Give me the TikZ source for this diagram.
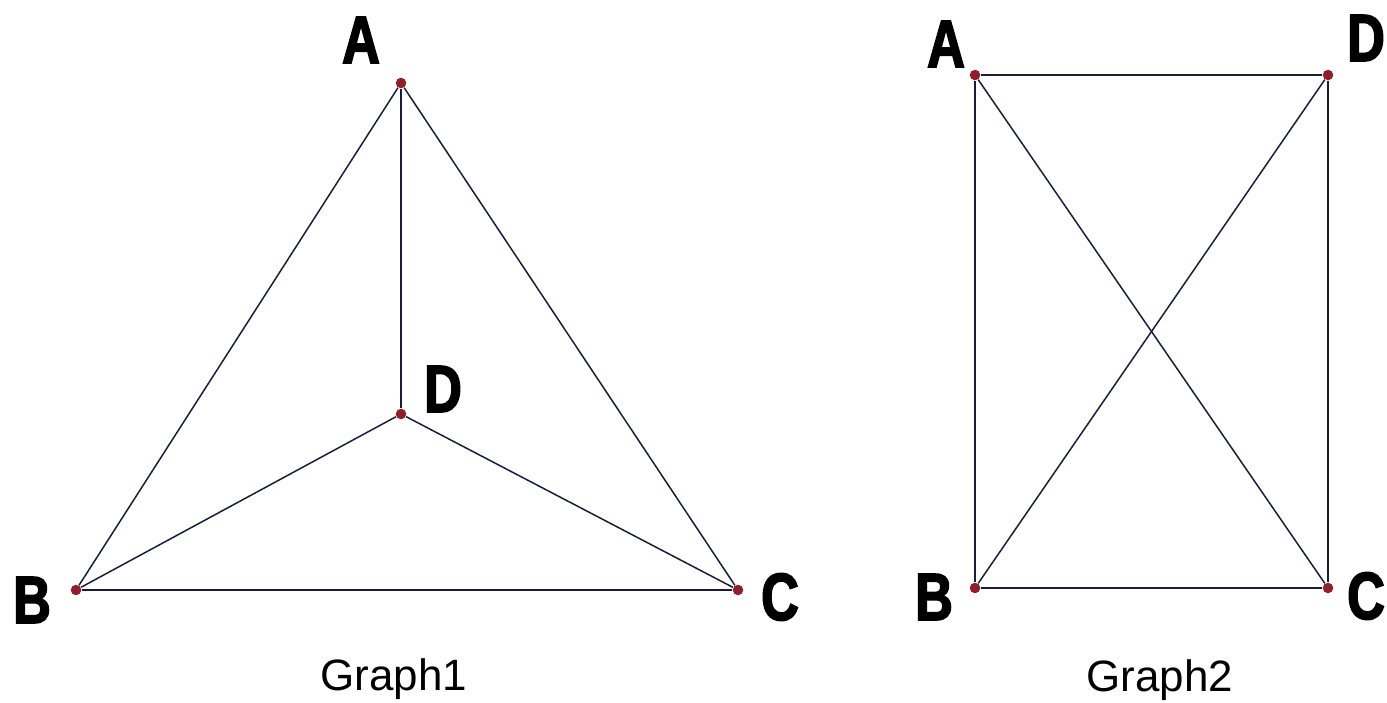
\documentclass[tikz,border=0pt]{standalone}
\usepackage{fontspec}
\setmainfont{Liberation Sans}
\newfontfamily\lblfont[FakeStretch=0.78,FakeBold=2.5]{Liberation Sans}
\usetikzlibrary{positioning}

\begin{document}
\begin{tikzpicture}[
  x=0.02cm, y=-0.02cm,
  vertex/.style={circle, fill=vtxred, inner sep=0pt, minimum size=6pt},
  lbl/.style={font=\lblfont\bfseries\fontsize{38}{38}\selectfont, inner sep=0pt},
  edge/.style={draw=edgeblue, line width=0.85pt},
  caption/.style={font=\fontsize{25}{25}\selectfont, inner sep=0pt}
]
\definecolor{vtxred}{HTML}{8E1F2B}
\definecolor{edgeblue}{HTML}{1C1C3A}
\useasboundingbox (0,0) rectangle (1387,703);

% Graph1
\node[vertex] (a1) at (401,83) {};
\node[vertex] (b1) at (76,590) {};
\node[vertex] (c1) at (738,590) {};
\node[vertex] (d1) at (401,414) {};

\draw[edge] (a1) -- (b1);
\draw[edge] (a1) -- (c1);
\draw[edge] (a1) -- (d1);
\draw[edge] (b1) -- (c1);
\draw[edge] (b1) -- (d1);
\draw[edge] (c1) -- (d1);

\node[lbl] (la1) at (361,40) {A};
\node[lbl] (lb1) at (32,600) {B};
\node[lbl] (lc1) at (780,597) {C};
\node[lbl] (ld1) at (443,389) {D};
\node[caption] (g1) at (394,679) {Graph1};

% Graph2
\node[vertex] (a2) at (975,75) {};
\node[vertex] (d2) at (1328,75) {};
\node[vertex] (b2) at (975,588) {};
\node[vertex] (c2) at (1328,588) {};

\draw[edge] (a2) -- (d2);
\draw[edge] (a2) -- (b2);
\draw[edge] (a2) -- (c2);
\draw[edge] (d2) -- (c2);
\draw[edge] (d2) -- (b2);
\draw[edge] (b2) -- (c2);

\node[lbl] (la2) at (946,44) {A};
\node[lbl] (ld2) at (1366,38) {D};
\node[lbl] (lb2) at (934,597) {B};
\node[lbl] (lc2) at (1366,596) {C};
\node[caption] (g2) at (1160,680) {Graph2};
\end{tikzpicture}
\end{document}
